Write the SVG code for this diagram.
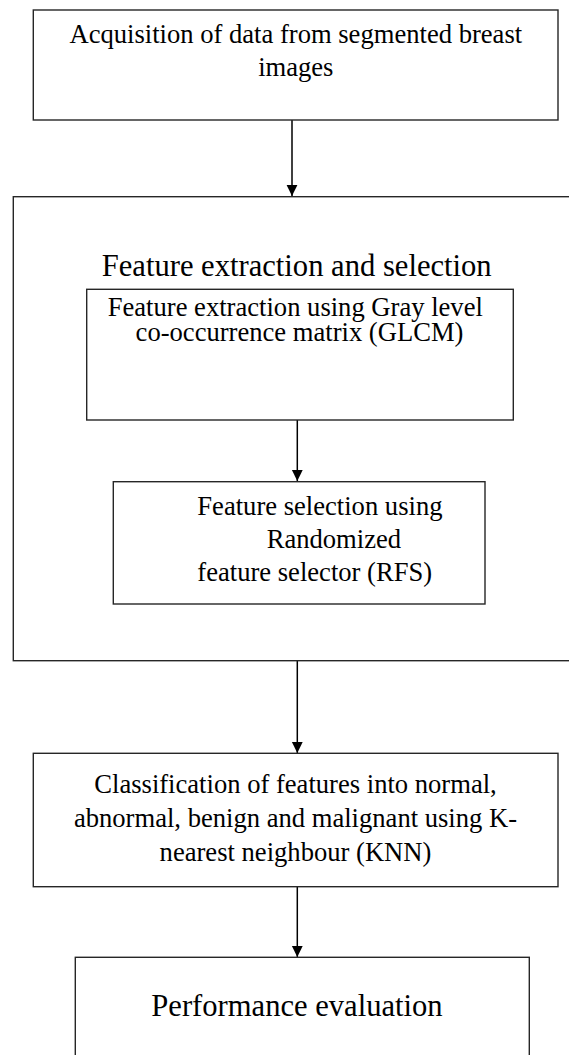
<svg xmlns="http://www.w3.org/2000/svg" width="569" height="1055" viewBox="0 0 569 1055">
<style>
.box{fill:none;stroke:#262626;stroke-width:1.4}
.t{font-family:"Liberation Serif","Times New Roman",serif;font-size:26.6px;fill:#000;text-anchor:middle}
.h{font-size:30.6px}
.s{text-anchor:start}
.c{fill:none;stroke:#000;stroke-width:1.5}
</style>
<defs>
<marker id="ah" markerUnits="userSpaceOnUse" markerWidth="12" markerHeight="12" viewBox="0 0 12 12" refX="11.5" refY="6" orient="auto">
<path d="M0.5,0.6 L11.5,6 L0.5,11.4 Z" fill="#000"/>
</marker>
</defs>
<g id="connectors">
<line class="c" x1="292" y1="120" x2="292" y2="196" marker-end="url(#ah)"/>
<line class="c" x1="297.3" y1="420" x2="297.3" y2="481" marker-end="url(#ah)"/>
<line class="c" x1="297.3" y1="661" x2="297.3" y2="753" marker-end="url(#ah)"/>
<line class="c" x1="297.3" y1="887" x2="297.3" y2="957" marker-end="url(#ah)"/>
</g>
<g id="acquisition">
<rect class="box" x="33.3" y="10" width="524.7" height="110"/>
<text class="t" x="295.8" y="43">Acquisition of data from segmented breast</text>
<text class="t" x="295.8" y="75.5">images</text>
</g>
<g id="feature-extraction-selection">
<rect class="box" x="13.3" y="196.7" width="560" height="464"/>
<text class="t h" x="296.7" y="276">Feature extraction and selection</text>
</g>
<g id="glcm">
<rect class="box" x="86.7" y="289.3" width="426.6" height="130.7"/>
<text class="t" x="295.3" y="316">Feature extraction using Gray level</text>
<text class="t" x="299.5" y="341">co-occurrence matrix (GLCM)</text>
</g>
<g id="rfs">
<rect class="box" x="113.3" y="481.7" width="371.7" height="122.3"/>
<text class="t s" x="197.3" y="515">Feature selection using</text>
<text class="t s" x="266.7" y="548">Randomized</text>
<text class="t s" x="197.3" y="581">feature selector (RFS)</text>
</g>
<g id="knn">
<rect class="box" x="33.3" y="753.3" width="524.7" height="133.4"/>
<text class="t" x="295.5" y="793">Classification of features into normal,</text>
<text class="t" x="295.5" y="827">abnormal, benign and malignant using K-</text>
<text class="t" x="295.5" y="861">nearest neighbour (KNN)</text>
</g>
<g id="performance">
<rect class="box" x="75.3" y="957.3" width="454" height="110"/>
<text class="t h" x="297" y="1016">Performance evaluation</text>
</g>
</svg>
